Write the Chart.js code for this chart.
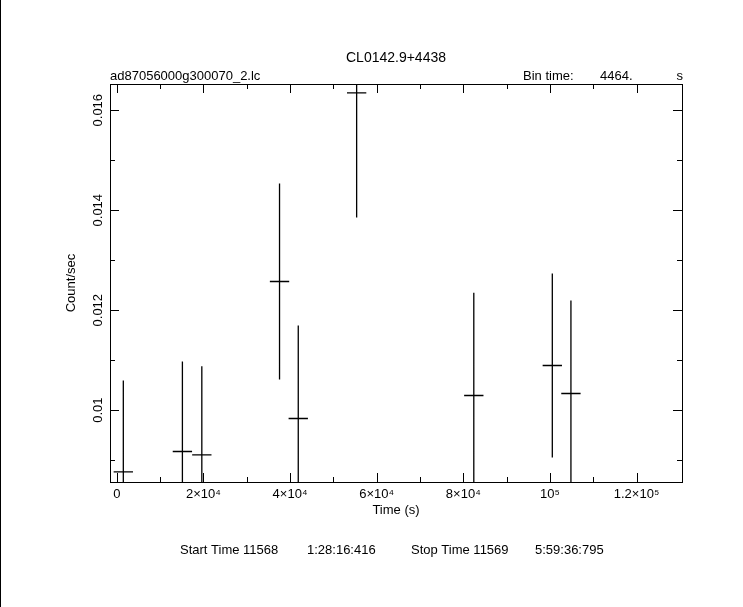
<!DOCTYPE html>
<html>
<head>
<meta charset="utf-8">
<script src="https://cdn.jsdelivr.net/npm/chart.js@4"></script>
<style>
  body { margin: 0; background: #fff; }
  #wrap { position: relative; width: 743px; height: 607px; }
  #edge { position: absolute; left: 0; top: 0; width: 1px; height: 607px; background: #000; }
</style>
</head>
<body>
<div id="wrap">
  <canvas id="lc" width="743" height="607"></canvas>
  <div id="edge"></div>
</div>
<script>
// light curve bins (time centre in s, rate, 1-sigma error)
const times = [1503, 15145, 19630, 37572, 41896, 55376, 82428, 100555, 104855];
const rates = [0.008768, 0.009174, 0.009108, 0.012574, 0.009834, 0.016348, 0.010294, 0.010894, 0.010334];
const errors = [0.001826, 0.0018, 0.001772, 0.00196, 0.00186, 0.002494, 0.002054, 0.00184, 0.00186];
const binTime = 4464;

const xMajor = [0, 20000, 40000, 60000, 80000, 100000, 120000];
const xLabels = ["0", "2×10⁴", "4×10⁴", "6×10⁴", "8×10⁴", "10⁵", "1.2×10⁵"];
const xMinor = [10000, 30000, 50000, 70000, 90000, 110000];
const yMajor = [0.01, 0.012, 0.014, 0.016];
const yLabels = ["0.01", "0.012", "0.014", "0.016"];
const yMinor = [0.009, 0.011, 0.013, 0.015];

const FONT = "'Liberation Sans', 'DejaVu Sans', sans-serif";

// each bin: vertical error bar + horizontal bin-width bar, separated by gaps
const barPoints = [];
times.forEach((t, i) => {
  barPoints.push({ x: t, y: rates[i] - errors[i] }, { x: t, y: rates[i] + errors[i] }, { x: t, y: null });
  barPoints.push({ x: t - binTime / 2, y: rates[i] }, { x: t + binTime / 2, y: rates[i] }, { x: t, y: null });
});

const frame = {
  id: "frame",
  afterDraw(chart) {
    const { ctx, chartArea: a, scales: { x, y } } = chart;
    ctx.save();
    ctx.strokeStyle = "#000";
    ctx.lineWidth = 1;
    ctx.strokeRect(a.left + 0.5, a.top + 0.5, a.right - a.left, a.bottom - a.top);
    ctx.beginPath();
    x.ticks.forEach((t) => {
      const px = Math.round(x.getPixelForValue(t.value)) + 0.5;
      const len = xMajor.includes(t.value) ? 9 : 5;
      ctx.moveTo(px, a.bottom); ctx.lineTo(px, a.bottom - len);
      ctx.moveTo(px, a.top); ctx.lineTo(px, a.top + len);
    });
    y.ticks.forEach((t) => {
      const py = Math.round(y.getPixelForValue(t.value)) + 0.5;
      const len = yMajor.includes(t.value) ? 9 : 5;
      ctx.moveTo(a.left, py); ctx.lineTo(a.left + len, py);
      ctx.moveTo(a.right, py); ctx.lineTo(a.right - len, py);
    });
    ctx.stroke();

    ctx.fillStyle = "#000";
    ctx.font = "13px " + FONT;
    ctx.textBaseline = "middle";
    ctx.textAlign = "center";
    yMajor.forEach((v, i) => {
      ctx.save();
      ctx.translate(98, y.getPixelForValue(v));
      ctx.rotate(-Math.PI / 2);
      ctx.fillText(yLabels[i], 0, 0);
      ctx.restore();
    });

    ctx.textBaseline = "alphabetic";
    ctx.font = "14px " + FONT;
    ctx.fillText("CL0142.9+4438", (a.left + a.right) / 2, 62);
    ctx.font = "13px " + FONT;
    ctx.textAlign = "left";
    ctx.fillText("ad87056000g300070_2.lc", a.left, 80);
    ctx.fillText("Bin time:", 523, 80);
    ctx.fillText("4464.", 600, 80);
    ctx.textAlign = "right";
    ctx.fillText("s", a.right + 1, 80);
    ctx.textAlign = "left";
    ctx.fillText("Start Time 11568", 180, 554);
    ctx.fillText("1:28:16:416", 307, 554);
    ctx.fillText("Stop Time 11569", 411, 554);
    ctx.fillText("5:59:36:795", 535, 554);
    ctx.restore();
  },
};

new Chart(document.getElementById("lc"), {
  type: "scatter",
  data: {
    datasets: [
      {
        data: barPoints,
        showLine: true,
        spanGaps: false,
        borderColor: "#000",
        borderWidth: 1.3,
        pointRadius: 0,
        tension: 0,
      },
    ],
  },
  options: {
    responsive: false,
    animation: false,
    layout: { padding: { left: 62, top: 84, right: 61, bottom: 89 } },
    plugins: { legend: { display: false }, tooltip: { enabled: false } },
    scales: {
      x: {
        type: "linear",
        min: -1572,
        max: 130500,
        afterBuildTicks: (s) => {
          s.ticks = xMajor.concat(xMinor).sort((p, q) => p - q).map((v) => ({ value: v }));
        },
        afterFit: (s) => { s.height = 36; },
        grid: { display: false, drawTicks: false },
        border: { display: false },
        ticks: {
          autoSkip: false,
          maxRotation: 0,
          padding: 5,
          color: "#000",
          font: { size: 13, family: FONT },
          callback: (v) => {
            const i = xMajor.indexOf(v);
            return i < 0 ? "" : xLabels[i];
          },
        },
        title: {
          display: true,
          text: "Time (s)",
          color: "#000",
          font: { size: 13, family: FONT },
          padding: { top: 0, bottom: 0 },
        },
      },
      y: {
        type: "linear",
        min: 0.008564,
        max: 0.016524,
        afterBuildTicks: (s) => {
          s.ticks = yMajor.concat(yMinor).sort((p, q) => p - q).map((v) => ({ value: v }));
        },
        afterFit: (s) => { s.width = 48; },
        grid: { display: false, drawTicks: false },
        border: { display: false },
        ticks: { display: false },
        title: {
          display: true,
          text: "Count/sec",
          color: "#000",
          font: { size: 13, family: FONT },
          padding: { top: 2, bottom: 0 },
        },
      },
    },
  },
  plugins: [frame],
});
</script>
</body>
</html>
